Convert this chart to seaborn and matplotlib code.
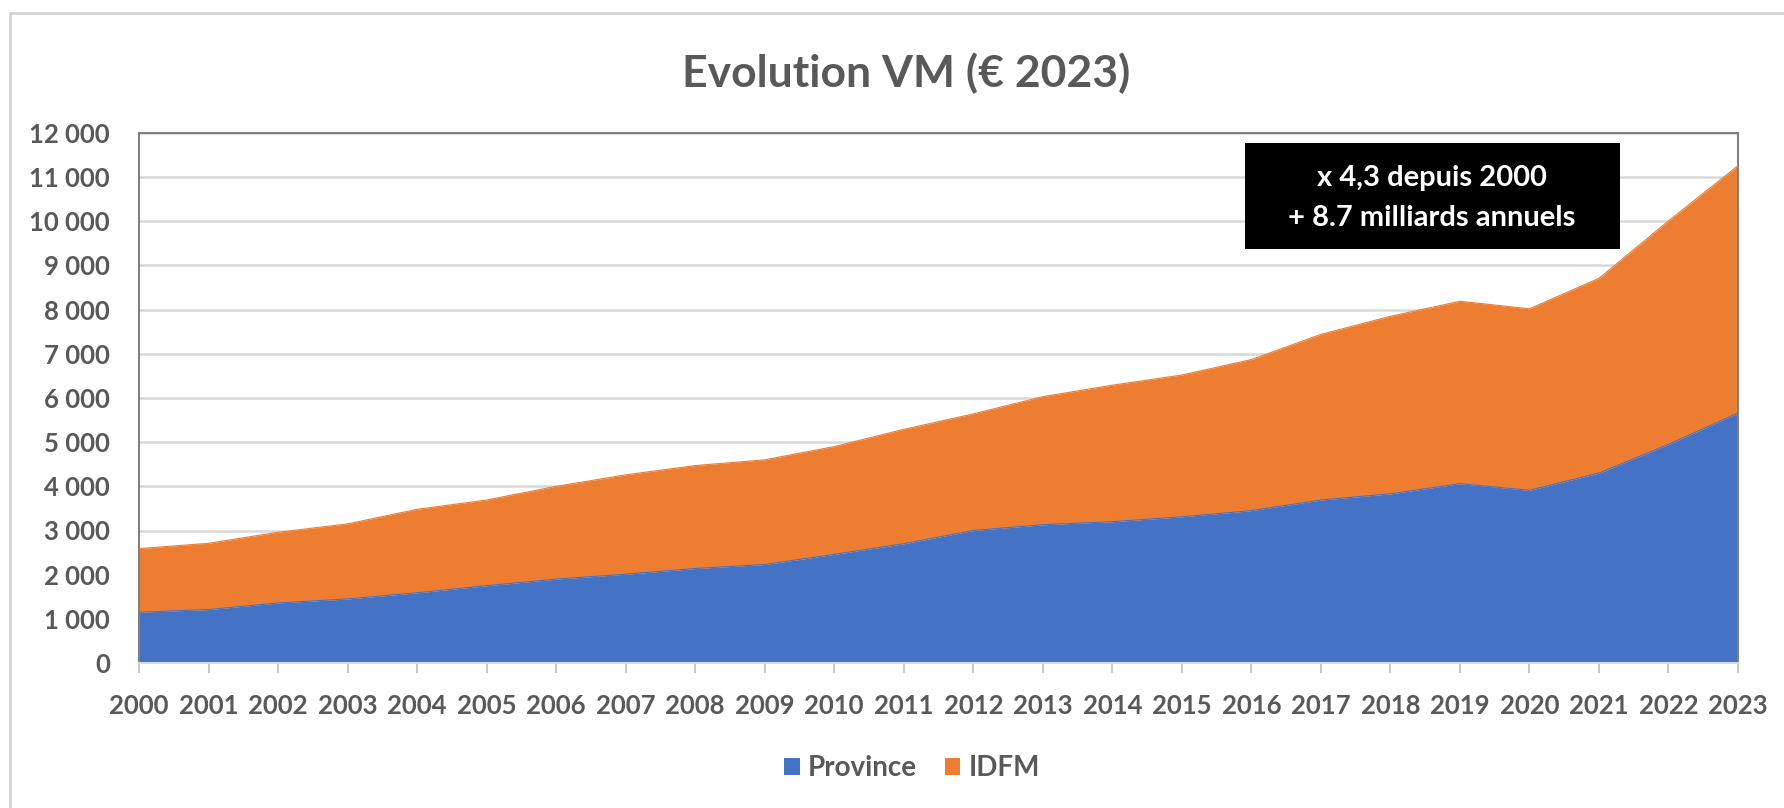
import matplotlib
matplotlib.use("Agg")
import matplotlib.pyplot as plt
from matplotlib.lines import Line2D
from matplotlib.patches import Rectangle, Patch
import seaborn as sns
import pandas as pd

# Yearly versement mobilité revenue, millions of constant 2023 euros
years = list(range(2000, 2024))
province = [1150, 1210, 1360, 1450, 1590, 1750, 1900, 2010, 2140, 2230, 2460, 2700,
            3000, 3130, 3200, 3310, 3450, 3690, 3830, 4060, 3910, 4300, 4950, 5660]
idfm = [1440, 1500, 1600, 1700, 1890, 1940, 2100, 2250, 2330, 2370, 2440, 2590,
        2640, 2900, 3090, 3210, 3420, 3750, 4020, 4130, 4110, 4410, 5060, 5600]
series_names = ["Province", "IDFM"]
series_colors = ["#4472C4", "#ED7D31"]
y_ticks = list(range(0, 12001, 1000))
title = "Evolution VM (€ 2023)"
note_lines = ["x 4,3 depuis 2000", "+ 8.7 milliards annuels"]

df = pd.DataFrame({"year": years, "Province": province, "IDFM": idfm})
df["top_province"] = df["Province"]
df["top_idfm"] = df["Province"] + df["IDFM"]

sns.set_theme(style="white")
plt.rcParams["font.family"] = ["Lato", "DejaVu Sans"]
plt.rcParams["font.weight"] = "bold"

TEXT = "#595959"

fig = plt.figure(figsize=(17.84, 8.08), dpi=100)
fig.patch.set_facecolor("white")
ax = fig.add_axes([139 / 1784, 1 - 663 / 808, (1738 - 139) / 1784, (663 - 133) / 808])

# stacked areas
ax.fill_between(df["year"], 0, df["top_province"], color=series_colors[0], lw=0, zorder=2)
ax.fill_between(df["year"], df["top_province"], df["top_idfm"], color=series_colors[1], lw=0, zorder=2)
sns.lineplot(data=df, x="year", y="top_province", color=series_colors[0], lw=0.8, ax=ax, zorder=3)
sns.lineplot(data=df, x="year", y="top_idfm", color=series_colors[1], lw=0.8, ax=ax, zorder=3)

ax.set_xlim(years[0], years[-1])
ax.set_ylim(0, 12000)
ax.set_xlabel("")
ax.set_ylabel("")

ax.set_yticks(y_ticks)
ax.set_yticklabels([f"{v:,}".replace(",", " ") for v in y_ticks])
ax.set_xticks(years)
ax.set_xticklabels([str(y) for y in years])
ax.yaxis.grid(True, color="#d9d9d9", lw=1.8, zorder=1)
ax.set_axisbelow(True)

ax.tick_params(axis="y", length=0, pad=21, labelsize=18.5, labelcolor=TEXT)
ax.tick_params(axis="x", length=7, width=1.2, color="#bfbfbf", direction="out",
               pad=15, labelsize=18.5, labelcolor=TEXT, bottom=True)
for lab in ax.get_xticklabels() + ax.get_yticklabels():
    lab.set_fontweight("bold")

for side in ["top", "left", "right"]:
    ax.spines[side].set_color("#808080")
    ax.spines[side].set_linewidth(1.5)
ax.spines["bottom"].set_color("#d9d9d9")
ax.spines["bottom"].set_linewidth(1.5)

# title
fig.text(906 / 1784, 1 - 87 / 808, title, ha="center", va="baseline",
         fontsize=32, fontweight="bold", color=TEXT)

# annotation box
fig.add_artist(Rectangle((1245 / 1784, 1 - 249 / 808), 375 / 1784, 106 / 808,
                         transform=fig.transFigure, facecolor="black", edgecolor="none", zorder=5))
fig.text(1432 / 1784, 1 - 186 / 808, note_lines[0], ha="center", va="baseline",
         fontsize=21, fontweight="bold", color="white", zorder=6)
fig.text(1432 / 1784, 1 - 226 / 808, note_lines[1], ha="center", va="baseline",
         fontsize=21, fontweight="bold", color="white", zorder=6)

# legend
handles = [Patch(facecolor=c, edgecolor="none") for c in series_colors]
leg = fig.legend(handles, series_names, loc="center", bbox_to_anchor=(912 / 1784, 1 - 768 / 808),
                 ncol=2, frameon=False, fontsize=20, handlelength=0.55, handleheight=0.55,
                 handletextpad=0.3, columnspacing=1.0)
for t in leg.get_texts():
    t.set_color(TEXT)
    t.set_fontweight("bold")

# chart frame edges
fig.add_artist(Line2D([10 / 1784, 1], [1 - 13 / 808, 1 - 13 / 808], transform=fig.transFigure,
                      color="#d4d4d4", lw=2))
fig.add_artist(Line2D([10 / 1784, 10 / 1784], [0, 1 - 13 / 808], transform=fig.transFigure,
                      color="#d4d4d4", lw=2))

fig.savefig("out.png", dpi=100, facecolor="white")
